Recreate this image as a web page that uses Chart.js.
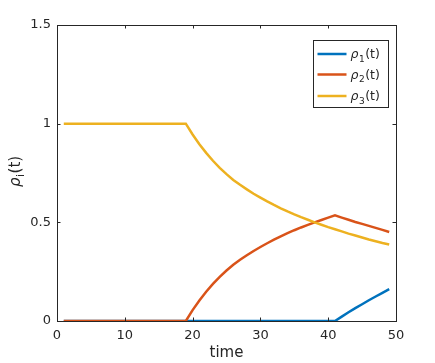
<!DOCTYPE html>
<html><head><meta charset="utf-8">
<script src="https://cdn.jsdelivr.net/npm/chart.js@4"></script>
<style>html,body{margin:0;padding:0;background:#fff}canvas{display:block}</style>
</head><body>
<canvas id="c" width="435" height="363"></canvas>
<script>
const time = [1,2,3,4,5,6,7,8,9,10,11,12,13,14,15,16,17,18,19,20,21,22,23,24,25,26,27,28,29,30,31,32,33,34,35,36,37,38,39,40,41,42,43,44,45,46,47,48,49];
const rho1 = [0,0,0,0,0,0,0,0,0,0,0,0,0,0,0,0,0,0,0,0,0,0,0,0,0,0,0,0,0,0,0,0,0,0,0,0,0,0,0,0,0,
  0.022,0.044,0.065,0.085,0.105,0.124,0.143,0.161];
const rho2 = [0,0,0,0,0,0,0,0,0,0,0,0,0,0,0,0,0,0,
  0,0.055,0.104,0.148,0.188,0.224,0.256,0.285,0.310,0.333,0.355,0.375,0.394,0.412,0.429,0.445,0.460,0.474,0.487,0.500,0.512,0.524,0.535,
  0.524,0.513,0.502,0.492,0.482,0.472,0.462,0.451];
const rho3 = [1,1,1,1,1,1,1,1,1,1,1,1,1,1,1,1,1,1,
  1.000,0.945,0.896,0.852,0.812,0.776,0.744,0.715,0.690,0.667,0.645,0.625,0.606,0.588,0.571,0.555,0.540,0.526,0.513,0.500,0.488,0.476,0.465,
  0.454,0.443,0.433,0.423,0.413,0.404,0.395,0.388];
const seriesNames = ['1','2','3'];
const seriesColors = ['#0072BD','#D95319','#EDB120'];
const xTicks = [0,10,20,30,40,50];
const yTicks = [0,0.5,1,1.5];
const yTickLabels = ['0','0.5','1','1.5'];

const AX = '#262626';
const FONT = 'DejaVu Sans';
Chart.defaults.font.family = FONT;
Chart.defaults.color = AX;

function pts(ys){ return time.map((t,i)=>({x:t,y:ys[i]})); }

function drawRho(ctx, x, y, sub, size){
  ctx.textBaseline = 'alphabetic';
  ctx.textAlign = 'left';
  ctx.font = 'italic ' + size + 'px "' + FONT + '"';
  ctx.fillText('\u03C1', x, y);
  x += ctx.measureText('\u03C1').width + 0.5;
  const ss = Math.round(size*0.72);
  ctx.font = ss + 'px "' + FONT + '"';
  ctx.fillText(sub, x, y + size*0.28);
  x += ctx.measureText(sub).width + 0.5;
  ctx.font = size + 'px "' + FONT + '"';
  ctx.fillText('(t)', x, y);
}

const decor = {
  id:'decor',
  afterDraw(chart){
    const ctx = chart.ctx, ca = chart.chartArea;
    const xs = chart.scales.x, ys = chart.scales.y;
    ctx.save();
    ctx.strokeStyle = AX; ctx.lineWidth = 1;
    ctx.beginPath();
    ctx.moveTo(ca.left, ca.top+0.5); ctx.lineTo(ca.right+0.5, ca.top+0.5);
    ctx.moveTo(ca.right+0.5, ca.top); ctx.lineTo(ca.right+0.5, ca.bottom);
    const tl = 3.5;
    xTicks.forEach(v=>{
      const px = Math.round(xs.getPixelForValue(v))+0.5;
      ctx.moveTo(px, ca.bottom); ctx.lineTo(px, ca.bottom-tl);
      ctx.moveTo(px, ca.top); ctx.lineTo(px, ca.top+tl);
    });
    yTicks.forEach(v=>{
      const py = Math.round(ys.getPixelForValue(v))+0.5;
      ctx.moveTo(ca.left, py); ctx.lineTo(ca.left+tl, py);
      ctx.moveTo(ca.right, py); ctx.lineTo(ca.right-tl, py);
    });
    ctx.stroke();

    // legend
    const bw = 75, bh = 67;
    const bx = Math.round(ca.right - 8 - bw) + 0.5, by = Math.round(ca.top + 15) + 0.5;
    ctx.fillStyle = '#fff';
    ctx.fillRect(bx, by, bw, bh);
    ctx.strokeStyle = AX; ctx.lineWidth = 1;
    ctx.strokeRect(bx, by, bw, bh);
    const rowY = [13.5, 34, 55.5];
    chart.data.datasets.forEach((ds,i)=>{
      const yy = by + rowY[i];
      ctx.strokeStyle = ds.borderColor; ctx.lineWidth = 2.5;
      ctx.beginPath(); ctx.moveTo(bx+4, yy); ctx.lineTo(bx+33, yy); ctx.stroke();
      ctx.fillStyle = AX;
      drawRho(ctx, bx+37, yy+4, seriesNames[i], 12.5);
    });

    // y title
    ctx.save();
    ctx.translate(20, 187);
    ctx.rotate(-Math.PI/2);
    ctx.fillStyle = AX;
    drawRho(ctx, 0, 0, 'i', 15);
    ctx.restore();
    ctx.restore();
  }
};

new Chart(document.getElementById('c'), {
  type:'line',
  data:{
    datasets:[rho1,rho2,rho3].map((d,i)=>({
      label:'\u03C1'+seriesNames[i]+'(t)',
      data:pts(d),
      borderColor:seriesColors[i],
      backgroundColor:seriesColors[i],
      borderWidth:2.5,
      pointRadius:0,
      tension:0,
      fill:false,
      order:3-i
    }))
  },
  options:{
    responsive:false,
    animation:false,
    devicePixelRatio:1,
    layout:{padding:{left:0,right:39,top:25,bottom:0}},
    plugins:{legend:{display:false},tooltip:{enabled:false}},
    scales:{
      x:{
        type:'linear', min:0, max:50,
        afterBuildTicks(s){ s.ticks = xTicks.map(v=>({value:v})); },
        ticks:{padding:7, maxRotation:0, autoSkip:false, font:{size:13}, color:AX},
        grid:{display:false, drawTicks:false},
        border:{display:true, color:AX, width:1},
        title:{display:true, text:'time', font:{size:15}, color:AX, padding:{top:0,bottom:1}},
        afterFit(s){ s.height = 42; }
      },
      y:{
        type:'linear', min:0, max:1.5,
        afterBuildTicks(s){ s.ticks = yTicks.map(v=>({value:v})); },
        ticks:{padding:6, autoSkip:false, font:{size:13}, color:AX,
          callback(v){ const k = yTicks.indexOf(v); return k>=0 ? yTickLabels[k] : ''; }},
        grid:{display:false, drawTicks:false},
        border:{display:true, color:AX, width:1},
        afterFit(s){ s.width = 57; }
      }
    }
  },
  plugins:[decor]
});
</script>
</body></html>
